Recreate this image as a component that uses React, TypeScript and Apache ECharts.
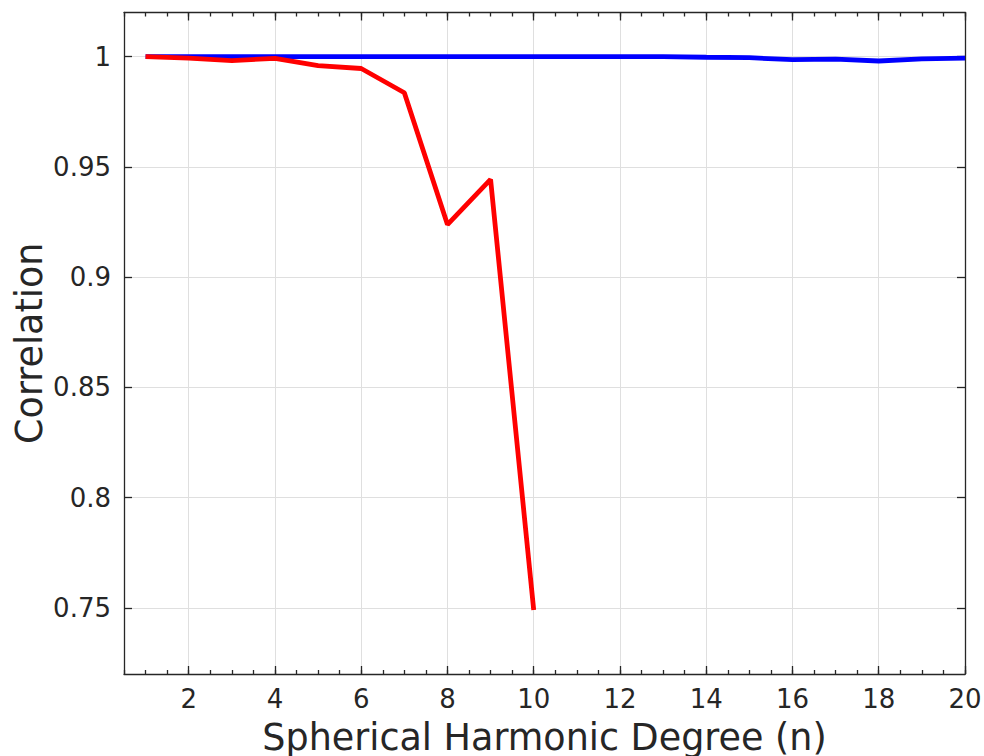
import React, { useEffect, useRef } from "react";
import * as echarts from "echarts";

const degrees = [1, 2, 3, 4, 5, 6, 7, 8, 9, 10, 11, 12, 13, 14, 15, 16, 17, 18, 19, 20];
const blueCorr = [1, 1, 1, 1, 1, 1, 1, 1, 1, 1, 1, 1, 1, 0.9997, 0.9995, 0.9986, 0.9989, 0.998, 0.999, 0.9993];
const redCorr = [1, 0.9993, 0.9982, 0.9992, 0.9959, 0.9946, 0.9836, 0.9238, 0.9443, 0.749];
const xMajorTicks = [2, 4, 6, 8, 10, 12, 14, 16, 18, 20];
const yMajorTicks = [0.75, 0.8, 0.85, 0.9, 0.95, 1];

const FONT = "DejaVu Sans";
const AX = "#262626";
const GRID = "#dfdfdf";

export default function App() {
  const ref = useRef<HTMLDivElement>(null);
  useEffect(() => {
    if (!ref.current) return;
    const chart = echarts.init(ref.current, null, { renderer: "svg" });
    const baseX = { type: "value", min: 0.5, max: 20 };
    const axisLine = { show: true, lineStyle: { color: AX, width: 1.3 } };
    chart.setOption({
      animation: false,
      backgroundColor: "#ffffff",
      grid: { left: 124, right: 19, top: 12.5, bottom: 82, containLabel: false, outerBoundsMode: "none" },
      xAxis: [
        {
          ...baseX,
          position: "bottom",
          axisLine,
          axisTick: { show: true, inside: true, length: 8, customValues: xMajorTicks, lineStyle: { color: AX, width: 1.3 } },
          axisLabel: { show: true, customValues: xMajorTicks, fontSize: 26, fontFamily: FONT, color: AX, margin: 12 },
          splitLine: { show: true, lineStyle: { color: GRID, width: 1 } },
          name: "Spherical Harmonic Degree (n)",
          nameLocation: "middle",
          nameGap: 45,
          nameMoveOverlap: false,
          nameTextStyle: { fontSize: 36.5, fontFamily: FONT, color: AX },
        },
        {
          ...baseX,
          interval: 0.5,
          position: "bottom",
          axisLine: { show: false },
          axisTick: { show: true, inside: true, length: 4, lineStyle: { color: AX, width: 1.3 } },
          axisLabel: { show: false },
          splitLine: { show: false },
        },
        {
          ...baseX,
          position: "top",
          axisLine,
          axisTick: { show: true, inside: true, length: 8, customValues: xMajorTicks, lineStyle: { color: AX, width: 1.3 } },
          axisLabel: { show: false },
          splitLine: { show: false },
        },
        {
          ...baseX,
          interval: 0.5,
          position: "top",
          axisLine: { show: false },
          axisTick: { show: true, inside: true, length: 4, lineStyle: { color: AX, width: 1.3 } },
          axisLabel: { show: false },
          splitLine: { show: false },
        },
      ],
      yAxis: [
        {
          type: "value",
          min: 0.72,
          max: 1.02,
          position: "left",
          axisLine,
          axisTick: { show: true, inside: true, length: 8, customValues: yMajorTicks, lineStyle: { color: AX, width: 1.3 } },
          axisLabel: {
            show: true,
            customValues: yMajorTicks,
            fontSize: 26,
            fontFamily: FONT,
            color: AX,
            margin: 13,
            formatter: (v: number) => String(+v.toFixed(2)),
          },
          splitLine: { show: true, lineStyle: { color: GRID, width: 1 } },
          name: "Correlation",
          nameLocation: "middle",
          nameGap: 76,
          nameMoveOverlap: false,
          nameTextStyle: { fontSize: 36.5, fontFamily: FONT, color: AX },
        },
        {
          type: "value",
          min: 0.72,
          max: 1.02,
          position: "right",
          axisLine,
          axisTick: { show: true, inside: true, length: 8, customValues: yMajorTicks, lineStyle: { color: AX, width: 1.3 } },
          axisLabel: { show: false },
          splitLine: { show: false },
        },
      ],
      series: [
        {
          type: "line",
          xAxisIndex: 0,
          yAxisIndex: 0,
          data: degrees.map((d, i) => [d, blueCorr[i]]),
          showSymbol: false,
          lineStyle: { color: "#0000ff", width: 4.8 },
          itemStyle: { color: "#0000ff" },
        },
        {
          type: "line",
          xAxisIndex: 0,
          yAxisIndex: 0,
          data: redCorr.map((v, i) => [degrees[i], v]),
          showSymbol: false,
          lineStyle: { color: "#ff0000", width: 4.8 },
          itemStyle: { color: "#ff0000" },
        },
      ],
    });
    return () => chart.dispose();
  }, []);
  return (
    <div
      ref={ref}
      style={{ position: "absolute", left: 0, top: 0, width: 984, height: 756, background: "#fff" }}
    />
  );
}
